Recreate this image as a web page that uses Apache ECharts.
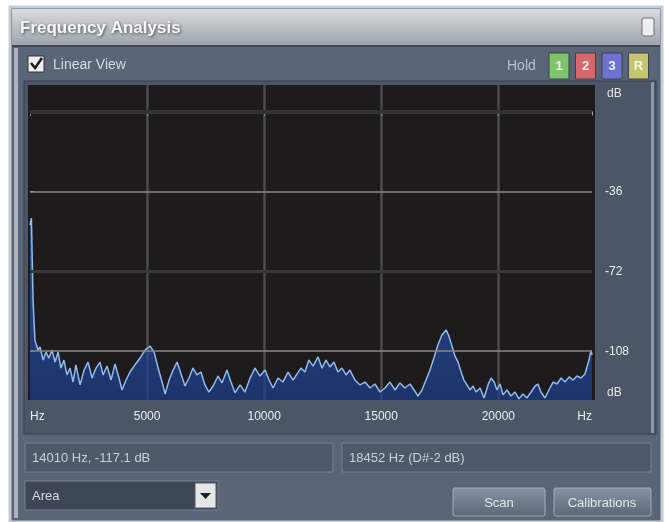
<!DOCTYPE html>
<html>
<head>
<meta charset="utf-8">
<script src="https://cdn.jsdelivr.net/npm/echarts@6/dist/echarts.min.js"></script>
<style>
  html, body { margin: 0; padding: 0; background: #ffffff; }
  #chart { width: 665px; height: 522px; }
</style>
</head>
<body>
<div id="chart"></div>
<script>
// Spectrum samples: frequency (Hz) and level (dB)
const freqHz = [
  0, 60, 130, 210, 340, 430, 560, 680, 810, 940,
  1070, 1200, 1320, 1450, 1580, 1710, 1840, 1960, 2140, 2310,
  2480, 2650, 2820, 2990, 3120, 3290, 3460, 3630, 3800, 3930,
  4100, 4270, 4480, 4700, 4910, 5130, 5300, 5470, 5640, 5770,
  5940, 6110, 6280, 6450, 6620, 6790, 6960, 7130, 7300, 7470,
  7640, 7820, 8030, 8200, 8410, 8580, 8760, 8970, 9180, 9400,
  9610, 9820, 10040, 10210, 10380, 10590, 10800, 11020, 11230, 11400,
  11570, 11740, 11910, 12090, 12300, 12470, 12640, 12810, 12980, 13150,
  13320, 13500, 13660, 13880, 14090, 14310, 14520, 14730, 14950, 15160,
  15370, 15590, 15800, 16010, 16230, 16400, 16570, 16740, 16910, 17080,
  17250, 17420, 17590, 17770, 17890, 18020, 18150, 18280, 18410, 18530,
  18660, 18790, 18920, 19050, 19220, 19390, 19560, 19690, 19820, 19940,
  20070, 20200, 20370, 20540, 20710, 20880, 21050, 21220, 21400, 21570,
  21690, 21820, 21990, 22160, 22340, 22510, 22680, 22850, 23020, 23190,
  23360, 23530, 23700, 23870, 23960, 24000
];
const levelDb = [
  -51.1, -48.0, -84.9, -103.0, -107.5, -106.1, -112.0, -108.4, -111.1, -107.5,
  -112.9, -108.4, -115.6, -112.0, -118.7, -115.6, -121.9, -114.2, -123.2, -116.5,
  -112.9, -120.1, -115.6, -112.9, -118.7, -114.7, -121.0, -113.8, -120.1, -125.5,
  -121.0, -117.4, -114.2, -111.1, -107.5, -105.7, -108.4, -115.6, -121.9, -127.3,
  -121.0, -116.5, -112.9, -118.3, -123.7, -120.1, -115.6, -118.7, -117.4, -123.2,
  -126.4, -123.7, -119.2, -122.3, -116.5, -121.9, -126.8, -123.2, -126.4, -120.1,
  -115.6, -119.2, -116.5, -121.0, -124.6, -120.1, -121.9, -117.4, -121.0, -118.3,
  -115.6, -117.4, -112.0, -114.7, -110.6, -115.6, -112.0, -115.1, -112.9, -117.4,
  -115.6, -118.7, -116.5, -121.0, -123.2, -121.9, -124.6, -122.8, -126.4, -124.6,
  -121.9, -125.5, -122.3, -124.6, -122.8, -125.5, -128.2, -125.5, -121.0, -116.5,
  -111.1, -105.2, -100.7, -98.4, -101.2, -105.7, -110.2, -112.9, -117.4, -121.0,
  -123.2, -125.5, -123.7, -126.4, -124.6, -129.1, -123.2, -120.1, -121.9, -125.5,
  -122.8, -127.7, -125.5, -128.2, -126.4, -129.5, -127.3, -129.1, -126.4, -123.7,
  -122.8, -126.4, -129.1, -125.5, -121.9, -122.8, -120.1, -121.9, -119.6, -121.0,
  -119.2, -120.1, -118.3, -112.0, -107.5, -109.7
];

// Axis ticks and labels
const freqTicks = [0, 5000, 10000, 15000, 20000, 24000];
const dbTicks = [-36, -72, -108];
const dbGrid = [0, -36, -72, -108];

// Readout texts
const cursorText = '14010 Hz, -117.1 dB';
const peakText = '18452 Hz (D#-2 dB)';
const holdSlots = ['1', '2', '3', 'R'];

const chart = echarts.init(document.getElementById('chart'), null, { renderer: 'canvas' });

const uiFont = '"Liberation Sans", Arial, sans-serif';
const slotColors = ['#7fc46b', '#d8676b', '#6d72d3', '#c6c46c'];

const graphics = [
  // window body
  { type: 'rect', z: -20, shape: { x: 10, y: 7, width: 652, height: 515 },
    style: { fill: '#5a6577', stroke: '#c6ccd3', lineWidth: 3 } },
  // title bar
  { type: 'rect', z: -19, shape: { x: 12, y: 9, width: 648, height: 36 },
    style: { fill: new echarts.graphic.LinearGradient(0, 0, 0, 1, [
      { offset: 0, color: '#d8dbde' }, { offset: 1, color: '#9ea5ad' }]) } },
  { type: 'rect', z: -19, shape: { x: 12, y: 45, width: 648, height: 2 },
    style: { fill: '#3f4756' } },
  { type: 'text', z: 10, style: { x: 20, y: 28, text: 'Frequency Analysis',
    fill: '#f6f6f6', font: 'bold 17px ' + uiFont, verticalAlign: 'middle',
    textShadowColor: '#4a505a', textShadowBlur: 3, textShadowOffsetX: 1, textShadowOffsetY: 1 } },
  { type: 'rect', z: 10, shape: { x: 642, y: 18, width: 12, height: 18, r: 2 },
    style: { fill: '#eceef0', stroke: '#6a717c', lineWidth: 1 } },
  // Linear View checkbox
  { type: 'rect', z: 10, shape: { x: 28, y: 56, width: 16, height: 16 },
    style: { fill: '#eeeeee', stroke: '#2e333b', lineWidth: 1 } },
  { type: 'polyline', z: 11, shape: { points: [[31, 63], [35, 68], [42, 58]] },
    style: { stroke: '#1c1c1c', lineWidth: 2.5, fill: null } },
  { type: 'text', z: 10, style: { x: 53, y: 65, text: 'Linear View',
    fill: '#d6dbe2', font: '14px ' + uiFont, verticalAlign: 'middle' } },
  { type: 'text', z: 10, style: { x: 507, y: 66, text: 'Hold',
    fill: '#b8c1ce', font: '14px ' + uiFont, verticalAlign: 'middle' } },
  // plot frame, plot background, axis panels
  { type: 'rect', z: -18, shape: { x: 24, y: 81, width: 632, height: 353 },
    style: { fill: '#4d5667', stroke: '#3a414e', lineWidth: 1 } },
  { type: 'rect', z: -17, shape: { x: 28, y: 85, width: 567, height: 315 },
    style: { fill: '#1e1b1c' } },
  { type: 'rect', z: -17, shape: { x: 651, y: 82, width: 3, height: 351 },
    style: { fill: '#8f99a8' } },
  { type: 'rect', z: -17, shape: { x: 14, y: 48, width: 4, height: 470 },
    style: { fill: '#aab3be' } },
  { type: 'text', z: 10, style: { x: 607, y: 94, text: 'dB',
    fill: '#e4e4e4', font: '12px ' + uiFont, verticalAlign: 'middle' } },
  { type: 'text', z: 10, style: { x: 607, y: 393, text: 'dB',
    fill: '#e4e4e4', font: '12px ' + uiFont, verticalAlign: 'middle' } },
  // readout boxes
  { type: 'rect', z: 5, shape: { x: 25, y: 443, width: 308, height: 29 },
    style: { fill: '#4f5969', stroke: '#758091', lineWidth: 1 } },
  { type: 'rect', z: 5, shape: { x: 342, y: 443, width: 309, height: 29 },
    style: { fill: '#4f5969', stroke: '#758091', lineWidth: 1 } },
  { type: 'text', z: 10, style: { x: 32, y: 458, text: cursorText,
    fill: '#c9ced6', font: '13px ' + uiFont, verticalAlign: 'middle' } },
  { type: 'text', z: 10, style: { x: 349, y: 458, text: peakText,
    fill: '#c9ced6', font: '13px ' + uiFont, verticalAlign: 'middle' } },
  // display-mode dropdown
  { type: 'rect', z: 5, shape: { x: 25, y: 481, width: 193, height: 29 },
    style: { fill: '#3e4656', stroke: '#758091', lineWidth: 1 } },
  { type: 'text', z: 10, style: { x: 32, y: 496, text: 'Area',
    fill: '#d6dbe2', font: '13px ' + uiFont, verticalAlign: 'middle' } },
  { type: 'rect', z: 6, shape: { x: 195, y: 483, width: 21, height: 25 },
    style: { fill: '#e6e6e6', stroke: '#555c66', lineWidth: 1 } },
  { type: 'polygon', z: 7, shape: { points: [[200, 493], [211, 493], [205.5, 499]] },
    style: { fill: '#222' } },
  // buttons
  { type: 'rect', z: 5, shape: { x: 453, y: 488, width: 92, height: 28, r: 2 },
    style: { fill: new echarts.graphic.LinearGradient(0, 0, 0, 1, [
      { offset: 0, color: '#8893a3' }, { offset: 1, color: '#5b6677' }]),
      stroke: '#a3adba', lineWidth: 1 } },
  { type: 'text', z: 10, style: { x: 499, y: 503, text: 'Scan',
    fill: '#e2e6ea', font: '13px ' + uiFont, align: 'center', verticalAlign: 'middle' } },
  { type: 'rect', z: 5, shape: { x: 554, y: 488, width: 97, height: 28, r: 2 },
    style: { fill: new echarts.graphic.LinearGradient(0, 0, 0, 1, [
      { offset: 0, color: '#8893a3' }, { offset: 1, color: '#5b6677' }]),
      stroke: '#a3adba', lineWidth: 1 } },
  { type: 'text', z: 10, style: { x: 602, y: 503, text: 'Calibrations',
    fill: '#e2e6ea', font: '13px ' + uiFont, align: 'center', verticalAlign: 'middle' } }
];

// Hold slot buttons
holdSlots.forEach((label, i) => {
  const x = 549 + i * 26.5;
  graphics.push({ type: 'rect', z: 8, shape: { x: x, y: 53, width: 20, height: 26 },
    style: { fill: slotColors[i], stroke: '#3c4350', lineWidth: 1 } });
  graphics.push({ type: 'text', z: 9, style: { x: x + 10, y: 66, text: label,
    fill: '#f2f2f2', font: 'bold 13px ' + uiFont, align: 'center', verticalAlign: 'middle' } });
});

const gridLineStyles = {
  '0': { color: '#333334', width: 4 },
  '-36': { color: '#8a8886', width: 1.5 },
  '-72': { color: '#383839', width: 3 },
  '-108': { color: '#8a8886', width: 1.5 }
};

const option = {
  animation: false,
  backgroundColor: '#ffffff',
  grid: { left: 30, top: 85, width: 562, height: 315, show: false },
  xAxis: {
    type: 'value', min: 0, max: 24000, interval: 5000,
    axisLine: { show: true, lineStyle: { color: '#6e7684', width: 1 } },
    axisTick: { show: true, length: 4, inside: false, lineStyle: { color: '#8e97a5' } },
    splitLine: { show: true, showMinLine: false, showMaxLine: false,
      lineStyle: { color: '#4a4a4c', width: 2.5 } },
    axisLabel: {
      customValues: freqTicks,
      alignMinLabel: 'left', alignMaxLabel: 'right',
      margin: 11, color: '#ececec', fontSize: 12, fontFamily: uiFont,
      formatter: v => (v === 0 || v === 24000) ? 'Hz' : String(v)
    }
  },
  yAxis: {
    type: 'value', position: 'right', min: -130, max: 12,
    axisLine: { show: false },
    axisTick: { show: true, customValues: dbTicks, length: 4, lineStyle: { color: '#c8c8c8' } },
    splitLine: { show: false },
    axisLabel: {
      customValues: dbTicks, margin: 13, color: '#ececec', fontSize: 12, fontFamily: uiFont,
      formatter: v => String(v)
    }
  },
  graphic: { elements: graphics },
  series: [
    {
      // level reference lines, drawn beneath the spectrum
      type: 'line', z: 1, data: [], symbol: 'none', silent: true,
      markLine: {
        silent: true, symbol: ['none', 'none'], label: { show: false },
        data: dbGrid.map(v => ({ yAxis: v, lineStyle: Object.assign({ type: 'solid' }, gridLineStyles[String(v)]) }))
      }
    },
    {
      type: 'line', z: 3, symbol: 'none', smooth: false,
      data: freqHz.map((f, i) => [f, levelDb[i]]),
      lineStyle: { color: '#8fbaf0', width: 1.5 },
      areaStyle: {
        origin: 'start',
        color: new echarts.graphic.LinearGradient(0, 0, 0, 1, [
          { offset: 0, color: '#3565bd' }, { offset: 1, color: '#1c3d8c' }])
      }
    }
  ]
};

chart.setOption(option);
</script>
</body>
</html>
